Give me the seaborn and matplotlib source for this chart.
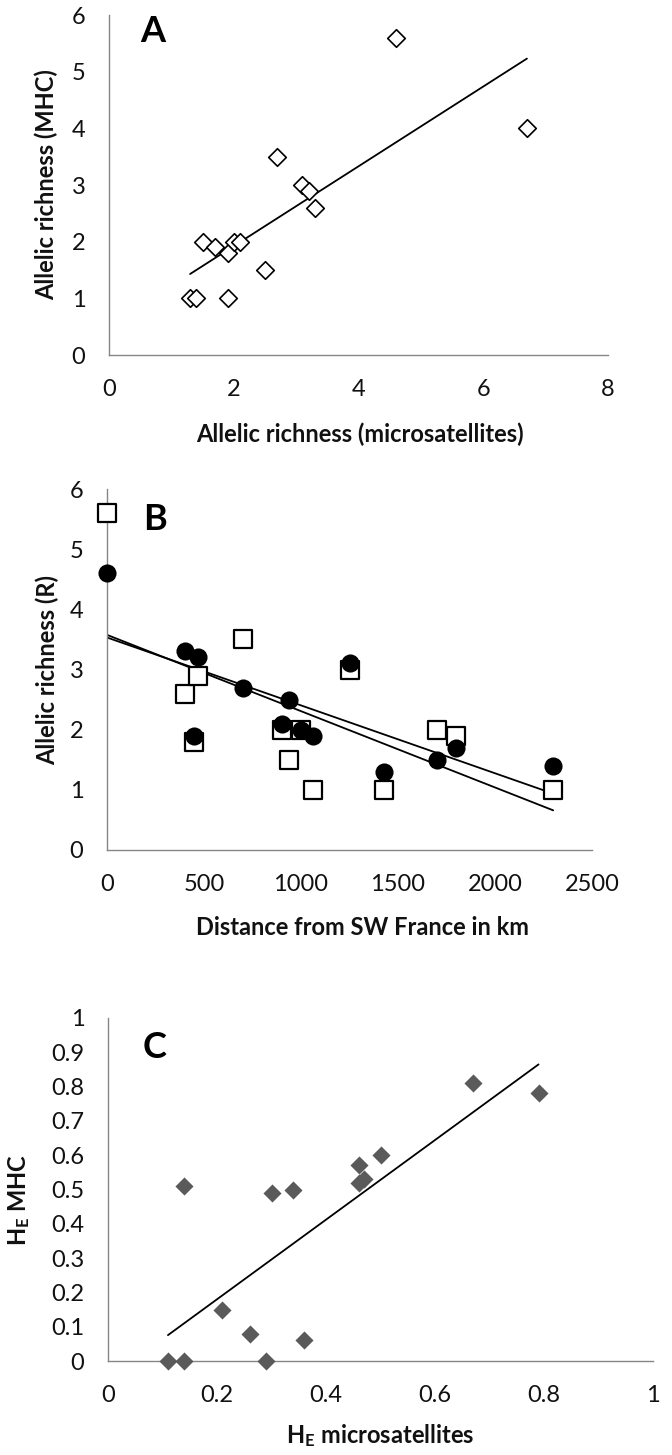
import matplotlib
matplotlib.use("Agg")
import matplotlib.pyplot as plt
import matplotlib.ticker as ticker
import seaborn as sns
import pandas as pd

# A: allelic richness, microsatellites vs MHC
ar_msat = [4.6, 6.7, 2.7, 3.1, 3.2, 3.3, 1.5, 1.7, 1.9, 2.0, 2.1, 2.5, 1.3, 1.4, 1.9]
ar_mhc = [5.6, 4.0, 3.5, 3.0, 2.9, 2.6, 2.0, 1.9, 1.8, 2.0, 2.0, 1.5, 1.0, 1.0, 1.0]

# B: allelic richness vs distance from SW France
dist_km = [0, 400, 470, 450, 700, 900, 940, 1000, 1060, 1250, 1430, 1700, 1800, 2300]
b_msat = [4.6, 3.3, 3.2, 1.9, 2.7, 2.1, 2.5, 2.0, 1.9, 3.1, 1.3, 1.5, 1.7, 1.4]
b_mhc = [5.6, 2.6, 2.9, 1.8, 3.5, 2.0, 1.5, 2.0, 1.0, 3.0, 1.0, 2.0, 1.9, 1.0]

# C: expected heterozygosity
he_msat = [0.11, 0.14, 0.14, 0.21, 0.26, 0.29, 0.30, 0.34, 0.36, 0.46, 0.46, 0.47, 0.50, 0.67, 0.79]
he_mhc = [0.0, 0.0, 0.51, 0.15, 0.08, 0.0, 0.49, 0.50, 0.06, 0.57, 0.52, 0.53, 0.60, 0.81, 0.78]

df_a = pd.DataFrame({"msat": ar_msat, "mhc": ar_mhc})
df_b = pd.DataFrame({"dist": dist_km, "msat": b_msat, "mhc": b_mhc})
df_c = pd.DataFrame({"msat": he_msat, "mhc": he_mhc})

sns.set_style("white")
plt.rcParams["font.family"] = ["Lato", "DejaVu Sans"]
plt.rcParams["mathtext.fontset"] = "custom"
plt.rcParams["mathtext.rm"] = "Lato"
plt.rcParams["mathtext.bf"] = "Lato:bold"

W, H = 672, 1455
fig = plt.figure(figsize=(W / 100, H / 100), dpi=100)

AXIS_GREY = "#868686"
TXT = "#111111"


def px_axes(x0, x1, ytop, ybot):
    return fig.add_axes([x0 / W, 1 - ybot / H, (x1 - x0) / W, (ybot - ytop) / H])


def style(ax):
    for s in ["top", "right"]:
        ax.spines[s].set_visible(False)
    for s in ["left", "bottom"]:
        ax.spines[s].set_color(AXIS_GREY)
        ax.spines[s].set_linewidth(1.0)
    ax.tick_params(axis="both", direction="out", length=6, width=1.0,
                   color=AXIS_GREY, labelsize=17, labelcolor=TXT)
    ax.tick_params(axis="y", pad=11)
    ax.tick_params(axis="x", pad=11)
    ax.yaxis.set_major_formatter(ticker.FormatStrFormatter("%g"))
    ax.xaxis.set_major_formatter(ticker.FormatStrFormatter("%g"))


def labels(ax, xl, yl, xl_pos, yl_pos):
    ax.set_xlabel(xl, fontsize=17, fontweight="bold", color=TXT, va="center")
    ax.set_ylabel(yl, fontsize=17, fontweight="bold", color=TXT, va="center")
    ax.xaxis.set_label_coords(xl_pos[0] / W, 1 - xl_pos[1] / H, transform=fig.transFigure)
    ax.yaxis.set_label_coords(yl_pos[0] / W, 1 - yl_pos[1] / H, transform=fig.transFigure)


line_kw = {"color": "black", "linewidth": 1.3}

# Panel A
ax_a = px_axes(109, 608, 15, 355)
sns.scatterplot(data=df_a, x="msat", y="mhc", marker="D", s=80, color="white",
                edgecolor="black", linewidth=1.2, ax=ax_a, zorder=3)
sns.regplot(data=df_a, x="msat", y="mhc", ci=None, scatter=False, truncate=True,
            line_kws=line_kw, ax=ax_a)
ax_a.set_xlim(0, 8)
ax_a.set_ylim(0, 6)
ax_a.set_xticks([0, 2, 4, 6, 8])
ax_a.set_yticks(range(0, 7))
style(ax_a)
labels(ax_a, "Allelic richness (microsatellites)", "Allelic richness (MHC)", (360, 434), (46, 185))

# Panel B
ax_b = px_axes(107, 592, 489, 850)
sns.regplot(data=df_b, x="dist", y="mhc", ci=None, scatter=False, truncate=True,
            line_kws=line_kw, ax=ax_b)
sns.regplot(data=df_b, x="dist", y="msat", ci=None, scatter=False, truncate=True,
            line_kws=line_kw, ax=ax_b)
sns.scatterplot(data=df_b, x="dist", y="mhc", marker="s", s=160, color="white",
                edgecolor="black", linewidth=1.6, ax=ax_b, zorder=3, clip_on=False)
sns.scatterplot(data=df_b, x="dist", y="msat", marker="o", s=170, color="black",
                edgecolor="black", linewidth=0, ax=ax_b, zorder=4, clip_on=False)
ax_b.set_xlim(0, 2500)
ax_b.set_ylim(0, 6)
ax_b.set_xticks(range(0, 2501, 500))
ax_b.set_yticks(range(0, 7))
style(ax_b)
labels(ax_b, "Distance from SW France in km", "Allelic richness (R)", (362, 928), (47, 670))

# Panel C
ax_c = px_axes(108, 653, 1018, 1361)
sns.scatterplot(data=df_c, x="msat", y="mhc", marker="D", s=85, color="#5a5a5a",
                linewidth=0, ax=ax_c, zorder=3, clip_on=False)
sns.regplot(data=df_c, x="msat", y="mhc", ci=None, scatter=False, truncate=True,
            line_kws=line_kw, ax=ax_c)
ax_c.set_xlim(0, 1)
ax_c.set_ylim(0, 1)
ax_c.set_xticks([0, 0.2, 0.4, 0.6, 0.8, 1.0])
ax_c.set_yticks([i / 10 for i in range(11)])
style(ax_c)
labels(ax_c, r"$\mathbf{H_E}$ microsatellites", r"$\mathbf{H_E}$ MHC", (380, 1436), (19, 1200))

# Panel letters
for letter, (x, y) in {"A": (153, 32), "B": (155, 519), "C": (155, 1047)}.items():
    fig.text(x / W, 1 - y / H, letter, fontsize=26, fontweight="bold",
             ha="center", va="center", color="black")

fig.savefig("out.png", dpi=100)
